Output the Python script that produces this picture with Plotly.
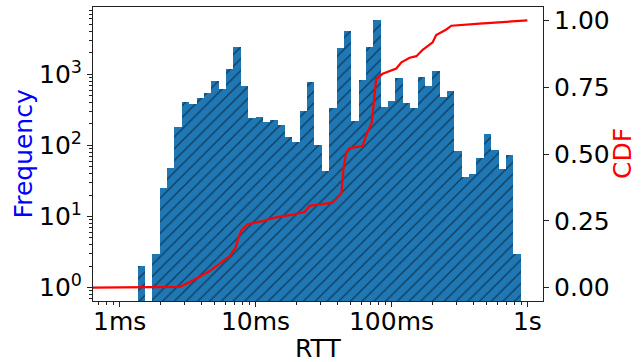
import numpy as np
import plotly.graph_objects as go

# ---- data ----
bin_min_ms = 1.357
bin_max_ms = 893.0
counts = [2, 0, 3, 25, 48, 183, 410, 384, 467, 548, 807, 623, 1190, 2423, 688,
          245, 253, 215, 230, 195, 132, 113, 307, 782, 102, 43, 338, 2346, 4061,
          217, 835, 2423, 5795, 349, 424, 891, 397, 338, 921, 688, 1116, 482, 585,
          84, 36, 40, 67, 146, 87, 46, 74, 3]

cdf_rtt_ms = [0.633, 2.764, 3.274, 3.879, 4.595, 5.443, 6.448, 7.14, 7.51, 7.901,
              8.747, 11.28, 13.82, 17.82, 22.98, 25.01, 32.25, 36.94, 42.8, 44.49,
              46.57, 49.25, 61.4, 65.69, 71.51, 73.96, 77.16, 86.12, 108.6, 118.3,
              136.1, 152.5, 169.7, 201.0, 213.3, 253.5, 276.0, 445.7, 741.0, 1000.0]
cdf_vals = [0.0, 0.003, 0.02, 0.04, 0.062, 0.09, 0.118, 0.15, 0.19, 0.215,
            0.237, 0.249, 0.262, 0.271, 0.283, 0.306, 0.314, 0.318, 0.352, 0.45,
            0.505, 0.522, 0.53, 0.575, 0.615, 0.70, 0.78, 0.80, 0.82, 0.843,
            0.86, 0.866, 0.89, 0.918, 0.945, 0.966, 0.98, 0.988, 0.997, 1.0]

x_tick_vals = [1, 10, 100, 1000]
x_tick_text = ["1ms", "10ms", "100ms", "1s"]
y_tick_vals = [1, 10, 100, 1000]
y_tick_text = ["10<sup>0</sup>", "10<sup>1</sup>", "10<sup>2</sup>", "10<sup>3</sup>"]
y2_tick_vals = [0, 0.25, 0.5, 0.75, 1.0]

# ---- histogram bins (log spaced) ----
edges = np.logspace(np.log10(bin_min_ms), np.log10(bin_max_ms), len(counts) + 1)
left = edges[:-1]
widths = edges[1:] - edges[:-1]
heights = [c if c > 0 else None for c in counts]

minor_x = [m * 10.0 ** e for e in range(-1, 4) for m in range(2, 10)]
minor_y = [m * 10.0 ** e for e in range(-1, 4) for m in range(2, 10)]

FONT = "DejaVu Sans"
FS = 25
AX = "#222222"

fig = go.Figure()
fig.add_trace(go.Bar(
    x=left, y=heights, width=widths, offset=0,
    marker=dict(color="#1f77b4", line=dict(width=0),
                pattern=dict(shape="/", fgcolor="black", bgcolor="#1f77b4",
                             size=8.3, solidity=0.15)),
    showlegend=False, hoverinfo="skip",
))
fig.add_trace(go.Scatter(
    x=cdf_rtt_ms, y=cdf_vals, yaxis="y2", mode="lines",
    line=dict(color="red", width=2.2), showlegend=False, hoverinfo="skip",
))

fig.update_layout(
    width=641, height=362,
    margin=dict(l=93, r=98, t=7, b=61, autoexpand=False),
    plot_bgcolor="white", paper_bgcolor="white",
    bargap=0,
    font=dict(family=FONT, size=FS, color="black"),
    xaxis=dict(
        type="log", range=[-0.196, 3.115], automargin=False,
        tickvals=x_tick_vals, ticktext=x_tick_text,
        ticks="outside", ticklen=5, tickwidth=1.1, tickcolor=AX,
        ticklabelstandoff=-7,
        minor=dict(tickvals=minor_x, ticks="outside", ticklen=3, tickwidth=0.8, tickcolor=AX),
        showline=True, linecolor=AX, linewidth=1.1, mirror=True,
        showgrid=False, zeroline=False,
        tickfont=dict(size=FS),
    ),
    yaxis=dict(
        type="log", range=[-0.188, 3.946], automargin=False,
        tickvals=y_tick_vals, ticktext=y_tick_text,
        ticks="outside", ticklen=5, tickwidth=1.1, tickcolor=AX,
        minor=dict(tickvals=minor_y, ticks="outside", ticklen=3, tickwidth=0.8, tickcolor=AX),
        showline=True, linecolor=AX, linewidth=1.1,
        showgrid=False, zeroline=False,
        tickfont=dict(size=FS),
    ),
    yaxis2=dict(
        overlaying="y", side="right", range=[-0.05, 1.05], automargin=False,
        tickvals=y2_tick_vals, tickformat=".2f",
        ticks="outside", ticklen=5, tickwidth=1.1, tickcolor=AX,
        showline=True, linecolor=AX, linewidth=1.1,
        showgrid=False, zeroline=False,
        tickfont=dict(size=FS),
    ),
    annotations=[
        dict(text="Frequency", xref="paper", yref="paper", x=-0.1556, y=0.502,
             xanchor="center", yanchor="middle", textangle=-90, showarrow=False,
             font=dict(size=FS, color="blue")),
        dict(text="CDF", xref="paper", yref="paper", x=1.1756, y=0.5,
             xanchor="center", yanchor="middle", textangle=-90, showarrow=False,
             font=dict(size=FS, color="red")),
        dict(text="RTT", xref="paper", yref="paper", x=0.5, y=-0.163,
             xanchor="center", yanchor="middle", showarrow=False,
             font=dict(size=FS, color="black")),
    ],
)

fig.write_html("out.html", config={"displayModeBar": False},
               post_script="document.body.style.margin='0px';document.body.style.padding='0px';")
